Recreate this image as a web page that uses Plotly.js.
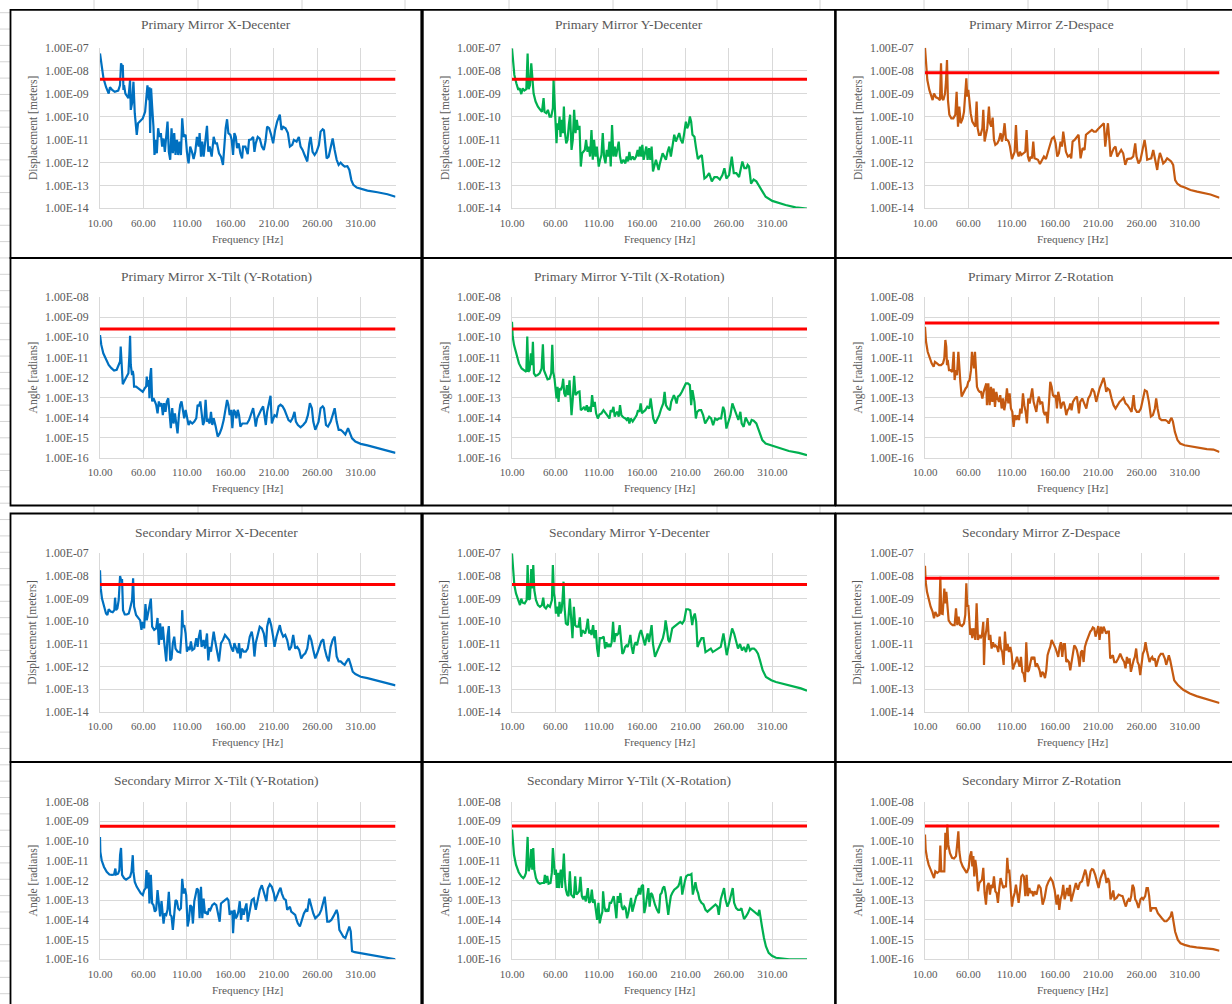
<!DOCTYPE html>
<html>
<head>
<meta charset="utf-8">
<script src="https://cdn.plot.ly/plotly-3.0.1.min.js"></script>
<style>html,body{margin:0;padding:0;background:#fff;}#chart{width:1232px;height:1004px;}</style>
</head>
<body>
<div id="chart"></div>
<script>
// ---------------- DATA ----------------
const chartTitles = [
  "Primary Mirror X-Decenter", "Primary Mirror Y-Decenter", "Primary Mirror Z-Despace",
  "Primary Mirror X-Tilt (Y-Rotation)", "Primary Mirror Y-Tilt (X-Rotation)", "Primary Mirror Z-Rotation",
  "Secondary Mirror X-Decenter", "Secondary Mirror Y-Decenter", "Secondary Mirror Z-Despace",
  "Secondary Mirror X-Tilt (Y-Rotation)", "Secondary Mirror Y-Tilt (X-Rotation)", "Secondary Mirror Z-Rotation"
];
const yTitles = ["Displacement [meters]", "Angle [radians]"];
const xTitle = "Frequency [Hz]";
const freqTicks = [10, 60, 110, 160, 210, 260, 310];
const freqTickText = ["10.00", "60.00", "110.00", "160.00", "210.00", "260.00", "310.00"];
const dispTicks = [1e-14, 1e-13, 1e-12, 1e-11, 1e-10, 1e-9, 1e-8, 1e-7];
const dispTickText = ["1.00E-14", "1.00E-13", "1.00E-12", "1.00E-11", "1.00E-10", "1.00E-09", "1.00E-08", "1.00E-07"];
const angTicks = [1e-16, 1e-15, 1e-14, 1e-13, 1e-12, 1e-11, 1e-10, 1e-9, 1e-8];
const angTickText = ["1.00E-16", "1.00E-15", "1.00E-14", "1.00E-13", "1.00E-12", "1.00E-11", "1.00E-10", "1.00E-09", "1.00E-08"];
const freqRange = [10, 350];
// requirement (red) levels per chart
const thresholds = [4.2e-9, 4.2e-9, 8e-9, 2.6e-10, 2.6e-10, 5.2e-10, 4.2e-9, 4.2e-9, 8e-9, 5.5e-10, 5.7e-10, 5.7e-10];

// Primary Mirror X-Decenter
const pmXdecF = [10,12,14,17,20,21.5,24,27,31,33,34.2,35.4,36.2,37,37.7,39.2,42.7,44.6,45.4,46.9,48.5,50,51.2,52.3,53.8,56.2,59.2,61.9,63.1,64.6,66.2,66.9,67.7,68.8,70,71.5,72.7,73.8,75.4,76.9,78.5,80,81.5,83.1,84.6,86.2,87.7,89.2,90.8,92.3,93.8,95.4,96.9,98.5,100,101.5,103.1,104.6,106.2,108.5,110,111.9,113.8,115.8,117.7,119.6,121.5,123.5,124.6,126.2,127.7,129.2,131.2,133.1,134.6,136.2,138.5,140.8,142.7,144.6,146.9,149.2,151.5,153.1,154.6,156.2,157.7,160,161.5,163.1,164.6,166.2,167.7,169.6,171.5,173.5,174.6,177.3,180,181.5,183.8,186.2,187.7,189.2,191.5,193.8,196.2,198.5,200.4,202.3,204.6,206.9,209.2,211.5,213.8,216.9,218.8,220.8,223.5,226.2,228.5,231.2,233.1,236.2,238.8,240.8,243.1,245.4,248.5,250.8,252.3,254.6,256.9,259.2,261.9,263.8,266.2,267.7,269.2,270.8,273.1,275.4,277.7,280,282.3,284.6,286.9,289.2,291.5,294.6,296.9,299.2,301.5,305.4,310,317.7,329.2,340.8,350];
const pmXdecV = [5.6e-8,1.3e-8,4.6e-9,1.9e-9,1.0e-9,1.9e-9,1.45e-9,1.2e-9,1.35e-9,2.3e-9,2.1e-8,1.5e-8,1.75e-8,1.45e-9,2.3e-9,1.0e-9,6.3e-10,3.9e-9,1.95e-10,3.8e-10,3.3e-9,1.4e-10,5.1e-11,1.6e-11,5.1e-11,6.5e-11,8.3e-11,1.6e-10,5.2e-10,2.3e-9,5.2e-10,1.9e-9,1.9e-11,1.7e-9,2.7e-10,3.6e-11,2.1e-12,9.6e-12,2.5e-12,3.1e-11,1.3e-11,1.9e-11,4.9e-12,1.1e-11,2.9e-12,1.3e-11,6e-11,2.9e-12,1.3e-12,3.1e-11,2.5e-12,1.9e-11,2.1e-12,9.6e-12,2.1e-12,8.1e-12,2.1e-12,8.3e-11,1.3e-11,1.6e-11,2.9e-12,9.1e-13,4.9e-12,2.9e-12,1.4e-12,2.9e-12,1.3e-11,4.9e-12,1.9e-11,1.8e-12,8.1e-12,1.8e-12,8.1e-12,3.9e-11,2.9e-12,4.9e-12,1.8e-12,1.3e-11,6.8e-12,6.8e-12,2.5e-12,1.8e-12,7.8e-13,6.8e-12,3.1e-11,7.6e-11,1.9e-11,1.6e-11,9.6e-12,2.1e-12,1.9e-11,1.3e-11,4.2e-12,6.8e-12,2.5e-12,1.5e-12,4.9e-12,4.9e-12,2.3e-12,9.6e-12,1e-11,1.3e-11,2.9e-12,6.8e-12,1.3e-11,1.1e-11,4.9e-12,3.5e-12,8.1e-12,3.6e-11,3.1e-11,1.6e-11,6.8e-12,2.6e-11,6e-11,1.2e-10,2.6e-11,3.6e-11,3.1e-11,1.9e-11,4.9e-12,5.8e-12,9.6e-12,8.1e-12,1.3e-11,4.9e-12,3.5e-12,2.1e-12,1.1e-12,6.8e-12,1.3e-11,2.9e-12,2.1e-12,2.9e-12,5.8e-12,2.2e-11,2.8e-11,2.5e-11,4.9e-12,1.5e-12,1.8e-12,4.9e-12,1.1e-11,3.5e-12,1.3e-12,7.8e-13,9.8e-13,7.8e-13,6.6e-13,6.9e-13,4.7e-13,1.7e-13,1.05e-13,8e-14,7e-14,5.9e-14,5e-14,4.1e-14,3.2e-14];

// Primary Mirror Y-Decenter
const pmYdecF = [10,11.1,12.7,15,17.3,18.8,20.7,22.3,24.2,26.5,28,29.2,30.7,32.2,33.4,34.9,37.2,39.9,42.6,44.5,46.4,47.5,49.5,51.4,53.3,55.2,57.1,57.9,59,60.2,61.3,62.5,63.6,64.8,65.9,67.1,68.6,69.8,70.9,72.5,74,75.5,77,78.6,80.1,81.6,83.2,84.7,86.2,87.8,89.3,90.8,92.4,93.9,95.4,97,98.5,100,101.6,103.1,104.6,106.2,107.7,110,111.5,113.1,114.6,116.1,117.7,119.2,120.7,122.3,123.8,125.3,126.9,128.4,129.9,131.5,133,134.5,136.1,138.4,140.7,142.2,143.8,145.3,146.8,149.1,151,153,154.8,156,157.5,159,160.2,161.7,163.3,164.8,166.3,167.9,169.4,170.9,172.5,174,175.9,177.4,179,180.5,182,183.6,185.5,187.4,189.3,191.2,193.1,195,197,198.9,201.2,202.7,204.6,206.6,208.5,210.4,211.9,213.5,215,216.5,218,220.3,221.9,224.2,226.5,228.8,231.8,234.1,237.2,240.3,243.3,246.4,249.5,252.5,254.8,257.1,260.2,263.3,265.6,268.6,271.7,274,275.5,277.8,280.1,281.6,283.2,285.5,288.5,291.6,295.4,299.3,302.3,310,317.7,325.3,336.8,344.5,350];
const pmYdecV = [9.3e-8,2.5e-8,6.5e-9,2.8e-9,1.45e-9,1.7e-9,9.5e-10,1.7e-9,1.35e-9,1.55e-9,5.6e-8,1.55e-9,2.3e-9,2.1e-8,3.9e-9,1.0e-9,4.5e-10,2.7e-10,1.95e-10,1.6e-10,6.3e-10,1.6e-10,1.4e-10,1.95e-10,1.0e-10,1.0e-10,2.3e-10,3.9e-9,5.2e-10,6e-11,6.8e-12,5.1e-11,2.6e-11,1e-10,1.3e-11,7.1e-11,1.9e-11,2.7e-10,2.2e-11,6.8e-12,9.6e-12,4.3e-11,1.2e-10,3.5e-12,9.6e-12,1.95e-10,1.9e-11,7.1e-11,2.6e-11,3.9e-11,6.6e-13,2.5e-12,2.9e-12,3.5e-12,9.6e-12,2.9e-12,4.9e-12,1.8e-12,2.6e-11,1.3e-12,9.6e-12,1.8e-12,4.9e-12,6.6e-13,1.3e-12,2.1e-12,1.9e-11,1.8e-12,9.1e-13,3.5e-12,1.8e-12,8.1e-12,6.6e-13,4.3e-11,1.8e-12,4.9e-12,1.8e-12,4.9e-12,8.1e-12,1.8e-12,9.1e-13,1.3e-12,9.1e-13,1.8e-12,1.1e-12,2.9e-12,1.3e-12,1.8e-12,1.3e-12,1.8e-12,3.5e-12,1.8e-12,4.9e-12,1.8e-12,5.8e-12,1.3e-12,2.5e-12,4.9e-12,1.3e-12,4.2e-12,1.3e-12,4.9e-12,4e-13,6.6e-13,1.3e-12,7.8e-13,4.7e-13,9.1e-13,1.8e-12,2.5e-12,1.8e-12,1.3e-12,2.9e-12,4.9e-12,1.8e-12,6.8e-12,1.6e-11,8.1e-12,1.3e-11,1.9e-11,9.6e-12,6.8e-12,1.9e-11,6e-11,3.1e-11,4.3e-11,1e-10,6e-11,1.6e-11,1.3e-11,4.9e-12,1.4e-12,1.8e-12,2.1e-12,2e-13,2.3e-13,3.4e-13,1.5e-13,2.3e-13,2.3e-13,1.8e-13,2.8e-13,5.6e-13,2e-13,2.8e-13,1.8e-12,3.4e-13,3.4e-13,2.3e-13,6.6e-13,1.1e-12,5.6e-13,5.6e-13,7.8e-13,6.6e-13,1.2e-13,1.8e-13,1.5e-13,9e-14,4.9e-14,3.2e-14,2.1e-14,1.65e-14,1.4e-14,1.1e-14,9.8e-15,9.6e-15];

// Primary Mirror Z-Despace
const pmZdesF = [10,11.2,12.7,15,17.3,18.8,20.4,22.7,25,27.3,28.5,29.6,31.2,33.1,34.2,35.4,36.5,38.1,40.4,42.7,45,46.5,48.1,49.6,51.2,53.5,55,56.9,57.7,58.8,60,61.2,62.7,64.6,66.5,68.1,69.6,70.8,72.3,74.2,76.2,77.3,78.8,80.4,81.9,83.8,85,86.5,88.1,89.6,91.2,93.5,95.4,97.3,98.8,100.4,101.9,103.5,105,106.5,108.1,110.4,111.9,113.5,115,116.5,118.1,119.6,121.2,123.5,125.8,127.3,128.8,130.4,131.9,133.5,135,136.5,138.1,140.4,142.7,145,147.3,149.6,151.9,154.2,156.5,158.8,160.8,162.7,164.6,166.5,168.1,169.6,171.2,172.7,175,177.3,178.8,180.4,182.7,185,187.3,189.6,191.9,194.2,195.8,198.1,200.4,202.7,205,207.3,209.6,212.7,215,216.5,218.1,219.6,221.2,222.7,224.2,226.2,228.1,230,231.9,234.2,236.5,238.8,241.2,243.5,245.8,248.1,250.4,252.7,254.2,256.5,258.8,261.2,263.5,265,266.5,268.8,271.2,273.5,275,276.5,278.1,279.6,281.2,282.7,285,287.3,289.6,291.9,294.2,296.5,298.8,301.2,305,310,316.5,324.2,331.9,339.6,350];
const pmZdesV = [1e-7,1.5e-8,3.9e-9,1.45e-9,7.4e-10,5.2e-10,1e-9,6.9e-10,6.3e-10,5.2e-10,2.1e-8,6.3e-10,5.2e-10,1e-9,3.3e-9,2.9e-8,5.2e-10,1.2e-10,8.3e-11,8.3e-11,1.2e-10,1.2e-9,3.6e-11,2.7e-10,5.1e-11,8.3e-11,1.6e-10,1e-9,4.6e-9,7.4e-10,1.45e-9,5.2e-10,1.4e-10,6e-11,4.3e-11,3.6e-11,4.5e-10,3.1e-11,1.6e-11,1.6e-11,3.1e-11,1.95e-10,8.1e-12,1.9e-11,3.1e-11,2.7e-10,5.1e-11,3.6e-11,9e-11,9.6e-12,5.8e-12,6.8e-12,9.6e-12,1.9e-11,8.1e-12,1.6e-11,5.1e-11,9.6e-12,9.6e-12,8.1e-12,4.9e-12,1.4e-12,2.1e-12,2.9e-12,4.3e-11,2.9e-12,1.8e-12,2.9e-12,2.1e-12,2.5e-12,2.9e-12,2.6e-11,1.8e-12,1.1e-12,1.8e-12,1.5e-12,8.1e-12,1.5e-12,1.4e-12,1.3e-12,8.6e-13,1.3e-12,1.8e-12,1.4e-12,2.9e-12,6.8e-12,1.1e-11,1.3e-11,6.8e-12,1.8e-12,2.5e-12,8.1e-12,4.9e-12,2.2e-11,9.6e-12,2.9e-12,1.8e-12,2.1e-12,1.5e-12,8.1e-12,9.6e-12,1.3e-11,1.6e-11,1.5e-12,4.2e-12,3.5e-12,1.6e-11,1.9e-11,2.2e-11,2.6e-11,2.2e-11,2.2e-11,2.8e-11,3.6e-11,4.3e-11,5.1e-11,4.9e-12,1.9e-11,5.1e-11,1.1e-11,1.8e-12,2.9e-12,4.2e-12,4.9e-12,1.8e-12,2.5e-12,3.5e-12,2.5e-12,7.8e-13,1.4e-12,1.5e-12,1.5e-12,1.8e-12,6.8e-12,1.8e-12,9.1e-13,1.3e-12,3.5e-12,9.6e-12,4.2e-12,1.3e-12,1.4e-12,1.5e-12,3.5e-12,1.8e-12,1.3e-12,4.7e-13,1.3e-12,2.6e-12,1.8e-12,9.1e-13,1.1e-12,1.5e-12,1.3e-12,1.1e-12,7.8e-13,1.7e-13,1.2e-13,9.4e-14,8e-14,6.3e-14,5.3e-14,4.6e-14,4e-14,2.9e-14];

// Primary Mirror X-Tilt (Y-Rotation)
const pmXtiltF = [10,11.5,13.8,16.9,20,23.1,26.2,29.2,31.5,33.1,33.8,35,36.2,37.7,40,42.7,43.8,44.6,45.4,46.9,47.7,48.5,49.2,51.5,53.8,56.2,59.2,61.5,63.1,63.8,65,66.2,66.9,67.7,68.8,70,71.5,73.1,74.6,76.2,77.7,79.2,80.8,82.3,83.8,85.4,86.9,88.5,90,91.5,93.1,94.6,96.2,97.7,99.2,100.8,102.3,103.8,105.4,106.9,108.5,110,111.9,113.8,116.2,118.5,120.8,122.3,123.8,125.4,126.9,128.5,130,131.5,133.1,134.6,136.2,137.7,139.2,140.8,143.1,145.4,147.7,150,152.3,154.6,156.2,157.7,159.2,160.8,162.3,163.8,165.4,166.9,168.5,170,171.5,173.8,176.2,179.2,181.5,183.8,186.2,187.7,189.2,190.8,193.1,195.4,197.7,199.2,200.8,202.3,204.6,206.2,207.7,209.2,210.8,213.1,215.4,217.7,220,222.3,224.6,226.9,229.2,231.5,233.8,235.4,237.7,240.8,243.8,246.9,249.2,251.5,253.8,255.4,257.7,259.2,261.5,263.8,266.2,267.7,270,272.3,275.4,277.7,280,282.3,284.6,286.9,289.2,292.3,295.4,297.7,300,303.8,310,317.7,329.2,340.8,350];
const pmXtiltV = [1.3e-10,4.2e-11,1.6e-11,7.4e-12,4.2e-12,2.9e-12,2.2e-12,2.4e-12,4.2e-12,6.2e-12,3.5e-11,2.4e-12,4.6e-13,6.2e-13,9.1e-13,1.6e-12,1.3e-11,1.2e-10,4.2e-12,1.3e-12,2.1e-12,1.3e-12,3.5e-13,3.5e-13,2.9e-13,2.3e-13,1.9e-13,2.9e-13,3.5e-13,1.1e-12,3.5e-13,7.4e-13,9.1e-14,1.1e-12,2.9e-12,6.3e-14,9.1e-14,6.3e-14,4.3e-14,1.6e-14,6.3e-14,3.6e-14,5.2e-14,1.3e-14,5.2e-14,1.9e-14,6.3e-14,9.1e-14,1.9e-14,2.9e-15,2.9e-14,5e-15,1.6e-14,4.2e-15,1.6e-15,1.3e-14,4.3e-14,6.3e-14,2.9e-14,9.1e-15,2.4e-14,9.1e-15,4.2e-15,6.2e-15,5e-15,6.2e-15,9.1e-15,4.3e-14,3.6e-14,6.3e-14,1.3e-14,4.2e-15,6.2e-15,7.5e-14,6.2e-15,7.4e-15,5e-15,1.9e-14,4.2e-15,9.1e-15,3.5e-15,1.1e-15,1.6e-15,2.9e-15,7.4e-15,2.9e-14,7.5e-14,4.3e-14,1.3e-14,2.4e-14,2.9e-15,2.4e-14,1.9e-14,9.1e-15,2.4e-14,1.3e-14,3.5e-15,5e-15,5e-15,5e-15,7.4e-15,1.6e-14,2.9e-14,1.1e-14,3.5e-15,9.1e-15,1.6e-14,2.4e-14,3.6e-14,1.3e-14,4.2e-15,1.9e-14,5.2e-14,1.2e-13,5e-15,9.1e-15,1.3e-14,1.1e-14,3.6e-14,4.3e-14,3.6e-14,2.4e-14,1.3e-14,7.4e-15,6.2e-15,9.1e-15,1.9e-14,6.2e-15,4.2e-15,3.2e-15,4.2e-15,6.2e-15,1.3e-14,5.2e-14,2.9e-14,6.2e-15,2.4e-15,3.5e-15,6.2e-15,2.9e-14,3.6e-14,2.9e-14,4.2e-15,3.5e-15,6.2e-15,1.3e-14,2.9e-14,6.2e-15,2.4e-15,2.4e-15,2e-15,1.4e-15,2.9e-15,1.6e-15,9.1e-16,6.2e-16,4.8e-16,4e-16,2.9e-16,2.2e-16,1.7e-16];

// Primary Mirror Y-Tilt (X-Rotation)
const pmYtiltF = [10,10.8,12.3,15,18,21.1,24.2,26.5,27.6,28.8,30.3,31.8,33,34.1,35.3,37.2,39.5,41.8,44.1,45.6,46.8,48.7,51,53.3,55.2,56.4,57.5,59,60.2,61.3,62.5,63.6,64.8,66.3,67.9,69,70.2,71.7,73.3,74.8,76.3,77.8,78.6,80.1,81.6,83.2,84.7,86.2,87.8,89.3,91.6,93.1,94.7,96.2,97.7,99.3,100.8,102.3,103.9,105.4,106.9,108.9,110.8,113.1,115.4,117.7,120,122.3,123.8,125.3,126.9,128.4,129.9,131.5,133,134.5,136.1,138.4,140.7,142.2,143.8,145.3,146.8,149.1,151.4,153.7,155.2,156.7,158.3,159.8,161.3,163.6,165.9,168.2,169.8,171.3,172.8,175.1,177.4,179.7,182,184.3,185.9,187.4,189.7,192,193.5,195.1,196.6,198.1,199.7,201.2,203.5,205.8,208.1,210.4,212.7,215,216.5,218,220.3,221.9,223.4,225.7,228,230.3,232.6,234.9,237.2,239.5,241.8,244.1,246.4,248.7,251,253.3,254.8,257.1,259.4,261.7,264,266.3,268.6,270.9,273.2,274.7,277,279.3,281.6,283.9,286.2,288.5,291.6,293.9,296.2,298.5,302.3,310,317.7,329.1,340.6,350];
const pmYtiltV = [6e-10,1.1e-10,4.2e-11,1.3e-11,5e-12,2.8e-12,2.1e-12,1.9e-12,1.1e-10,1.9e-12,2.3e-12,1.6e-11,4.1e-12,6e-11,1.6e-12,1.2e-12,1.3e-12,1.6e-12,2.8e-12,4.5e-11,2.3e-12,1.3e-12,8e-13,8.6e-13,1.6e-12,4.2e-11,1.9e-12,8.6e-13,2.8e-13,8.9e-14,3.4e-13,6e-14,2.8e-13,2.3e-13,3.8e-13,8.6e-13,1.6e-13,1.1e-13,4.1e-13,1.3e-13,7.1e-13,5e-14,1.3e-14,8.9e-14,1.2e-12,1.3e-13,1.6e-13,1.9e-13,2e-13,2.3e-14,2.8e-14,3.4e-14,2.3e-14,4.1e-14,1.9e-14,3.4e-14,1.9e-14,1.3e-13,3.4e-14,6e-14,1.6e-14,8.9e-15,1.4e-14,1.6e-14,2.3e-14,1.6e-14,1.1e-14,8.9e-15,2.3e-14,1.9e-14,3.4e-14,1.1e-14,1.6e-14,1.9e-14,1.1e-14,4.1e-14,1.3e-14,1e-14,8.9e-15,7.5e-15,1e-14,5e-15,8.9e-15,6.3e-15,8.9e-15,1.3e-14,2.3e-14,1.9e-14,5e-14,1.6e-14,1.9e-14,2.3e-14,3.4e-14,2.8e-14,8.9e-14,1.9e-14,8.9e-15,5e-15,7.5e-15,1.3e-14,2.8e-14,5e-14,1.9e-13,4.1e-14,2.8e-14,2.3e-14,6e-14,8.9e-14,1.3e-13,8.9e-14,5e-14,1.1e-13,1.3e-13,1.9e-13,3.4e-13,5e-13,5e-13,4.1e-13,4.1e-14,2.3e-13,6e-14,8.9e-15,1.9e-14,2.3e-14,2.3e-14,1.3e-14,5e-15,7.5e-15,1.1e-14,8.9e-15,4.1e-15,8.9e-15,7.5e-15,8.9e-15,8.9e-15,3.4e-14,2.3e-14,2.8e-15,6.3e-15,1.3e-14,5e-14,2.8e-14,1.3e-14,7.5e-15,1.9e-14,5e-15,3.4e-15,1e-14,6.3e-15,4.1e-15,7.5e-15,6.8e-15,5e-15,2.8e-15,1.3e-15,7.4e-16,5e-16,3.9e-16,2.8e-16,2.1e-16,1.7e-16,1.3e-16];

// Primary Mirror Z-Rotation
const pmZrotF = [10,11.2,13.1,15.4,17.7,20,21.5,23.8,26.2,28.5,30.8,32.3,33.5,34.6,35.4,36.2,37.7,39.2,41.5,43.1,44.2,45.4,46.9,48.5,49.6,50.8,52.3,53.8,55.4,56.9,58.5,60,61.5,63.1,64.2,65.4,66.5,67.7,68.8,70,71.5,73.1,74.6,76.2,77.7,79.2,80.8,81.5,83.1,84.6,86.2,87.7,89.2,90.8,92.3,93.8,95.4,96.9,98.5,100,101.5,103.1,104.6,106.2,107.7,109.2,110.8,112.3,113.8,115.4,116.9,118.5,120,121.5,123.1,124.6,126.2,127.7,129.2,130.8,132.3,133.8,135.4,136.9,138.5,140,141.5,143.1,145.4,146.9,148.5,150,151.5,153.1,154.6,156.2,157.7,159.2,160.8,162.3,163.8,165.4,166.9,168.5,170,171.5,173.1,174.6,176.2,177.7,179.2,180.8,183.1,185.4,187.7,189.2,191.5,193.8,196.2,198.5,200.8,203.1,205.4,207.7,209.2,211.5,213.8,216.2,217.7,219.2,220.8,223.1,225.4,227.7,230,232.3,234.6,236.9,239.2,241.5,243.8,246.2,248.5,250.8,252.3,254.6,256.9,259.2,261.5,263.8,266.2,268.5,270.8,273.1,275.4,276.9,278.5,280.8,283.1,285.4,287.7,290,291.5,293.1,294.6,296.2,298.5,301.5,304.6,309.6,316.2,323.8,335.4,343.1,350];
const pmZrotV = [3.4e-10,6e-11,1.9e-11,8.9e-12,5e-12,3.4e-12,6e-12,5e-12,4.1e-12,4.1e-12,5e-12,8.9e-12,7.4e-11,3.4e-11,4.1e-12,7.4e-12,2.3e-12,2.3e-12,1.9e-12,1.9e-11,7.4e-13,2.3e-12,1.3e-12,1.9e-11,1.9e-12,6e-13,1.1e-13,1.6e-13,2.3e-13,2.8e-13,3.4e-13,6e-13,7.4e-13,2.3e-12,1.9e-11,4.1e-12,2.8e-12,1.9e-11,2.3e-12,3.4e-13,2.3e-13,1.9e-13,1.9e-13,8.9e-14,1.9e-13,3.4e-13,5e-13,4.1e-14,5e-13,4.1e-14,3.4e-13,6e-14,2.8e-13,3.4e-14,1.9e-13,8.9e-14,6e-14,1.3e-13,2.8e-14,8.9e-14,2.3e-14,6e-14,2.8e-13,5e-14,1.6e-13,2.8e-14,1.9e-14,3.4e-15,1.3e-14,7.4e-15,1.3e-14,7.4e-15,2.8e-14,1.6e-14,1.6e-13,4.1e-14,1.9e-14,5e-15,8.9e-14,5e-14,1.3e-13,2.8e-13,6e-14,3.4e-14,1.9e-14,6e-14,1.1e-13,5e-14,6e-14,1.9e-14,1.3e-14,1.9e-14,5e-15,5e-14,6e-13,3.4e-13,1.3e-13,1.1e-13,1.3e-13,2.8e-14,1.9e-13,8.9e-14,2.8e-14,5e-14,6e-14,3.4e-14,1.3e-14,2.3e-14,2.8e-14,5e-14,2.3e-14,6e-14,8.9e-14,1.1e-13,1.6e-14,6e-14,8.9e-14,5e-14,2.8e-14,8.9e-14,1.3e-13,2.8e-13,1.9e-13,6e-14,1.3e-13,2.8e-13,5e-13,9.6e-13,5e-13,1.9e-13,2.8e-13,2.3e-13,8.9e-14,4.1e-14,2.8e-14,4.1e-14,6e-14,7.4e-14,9.6e-14,5e-14,4.1e-14,2.8e-14,1.9e-14,1.3e-13,2.8e-14,1.9e-14,1.9e-14,2.8e-14,8.9e-14,2.3e-13,2e-13,6e-14,1.1e-14,1.3e-14,2.8e-14,8.9e-14,2.8e-14,8.9e-15,7.4e-15,7.4e-15,7.4e-15,6.3e-15,5e-15,7.4e-15,9.6e-15,6.3e-15,1.9e-15,7.4e-16,5e-16,4.1e-16,3.6e-16,3e-16,2.6e-16,2.5e-16,1.9e-16];

// Secondary Mirror X-Decenter
const smXdecF = [10,10.8,12.3,14.6,16.9,18.5,20,22.3,24.6,26.5,27.3,28.5,30,31.5,33.1,34.2,35.4,36.5,38.5,40.8,43.1,44.6,46.9,48.1,49.2,51.5,53.8,56.2,57.7,59.2,60.8,62.3,63.8,65.4,66.9,68.5,70,72.3,74.6,76.2,77.7,79.2,80.8,82.3,83.8,86.2,87.7,89.2,90.8,92.3,93.8,95.4,96.9,99.2,102.3,103.8,104.6,105.4,106.9,108.5,110,111.5,113.1,114.6,116.2,118.5,120.8,122.3,123.8,125.4,126.9,129.2,130.8,133.1,134.6,136.2,137.7,139.2,140.8,142.3,144.6,146.9,149.2,151.5,153.8,156.2,158.5,160.8,163.1,164.6,166.9,168.5,170,171.5,173.1,175.4,177.7,180,182.3,184.6,186.2,187.7,189.2,191.5,193.8,196.2,198.5,200.8,202.3,204.6,206.9,209.2,210.8,213.1,215.4,216.9,218.5,220.8,223.1,225.4,227.7,230,232.3,234.6,236.9,239.2,241.5,243.8,246.2,248.5,250.8,253.1,255.4,257.7,260,262.3,264.6,266.9,268.5,270.8,273.1,275.4,277.7,280,282.3,284.6,286.9,289.2,291.5,293.8,296.2,298.5,300.8,303.8,310,317.7,329.2,340.8,350];
const smXdecV = [1.8e-8,2.9e-9,1e-9,4.5e-10,2.2e-10,1.9e-10,3.4e-10,2.7e-10,2.5e-10,3.1e-10,1.1e-9,3.1e-10,3.7e-10,8.7e-10,1e-8,6.6e-9,6.6e-9,3.1e-10,2e-10,2e-10,2.2e-10,3.7e-10,8.7e-10,7.9e-9,4.5e-10,1.9e-10,1.4e-10,1.1e-10,4.2e-11,9.5e-11,4.9e-11,5.8e-10,1.1e-10,2.2e-10,4.5e-10,1e-9,5.8e-11,4.2e-11,4.9e-11,1.4e-10,9.2e-12,8.2e-11,1.5e-11,5.8e-11,1.3e-11,1.7e-12,2.1e-11,6.2e-11,1.9e-12,2.3e-12,1.1e-11,2.1e-11,6.3e-12,4.6e-12,4.2e-12,2.9e-11,3.1e-10,5.8e-11,6.8e-11,2.9e-11,4.6e-12,7.5e-12,5.4e-12,1.3e-11,5.4e-12,6.3e-12,1.8e-11,7.5e-12,2.1e-11,4.2e-11,7.5e-12,1.5e-11,6.3e-12,2.9e-11,1.9e-12,7.5e-12,4.6e-12,1.5e-11,3.5e-11,1.5e-11,5.4e-12,1.7e-12,1.1e-11,1.5e-11,2.5e-11,1.8e-11,1.5e-11,7.5e-12,4.6e-12,1.1e-11,5.4e-12,3.9e-12,1.1e-11,2.3e-12,6.3e-12,4.6e-12,4.6e-12,6.3e-12,2.1e-11,3.5e-11,1.5e-11,2.8e-12,1.1e-11,2.9e-11,5.8e-11,4.9e-11,2.9e-11,7.5e-12,5.8e-11,1.4e-10,6.8e-11,2.1e-11,7.5e-12,2.1e-11,4.9e-11,6.8e-11,3.5e-11,2.1e-11,2.5e-11,1.5e-11,5.4e-12,7.5e-12,2.5e-11,6.3e-12,7.5e-12,5.4e-12,2.3e-12,3.2e-12,3.9e-12,6.3e-12,2.5e-11,1.5e-11,5.4e-12,2.3e-12,3.9e-12,7.5e-12,1.3e-11,1.6e-11,6.3e-12,2.8e-12,1.7e-12,7.5e-12,1.5e-11,2.1e-11,2.8e-12,1.7e-12,1.7e-12,1.4e-12,1.2e-12,1.7e-12,2.3e-12,1.2e-12,6e-13,4.7e-13,3.6e-13,3.1e-13,2.4e-13,1.8e-13,1.5e-13];

// Secondary Mirror Y-Decenter
const smYdecF = [10,11.1,12.7,14.6,16.9,19.2,20.7,22.3,24.6,26.9,28,29.2,30.7,32.2,33.4,34.5,35.7,37.6,39.9,42.2,44.5,46,47.2,49.1,51.4,53.7,56,57.1,58.3,59.4,60.6,62.1,63.6,64.8,65.9,67.1,68.2,69.4,70.5,72.1,74.4,76.7,78.2,79.7,81.3,82.8,84.3,86.6,88.2,89.7,91.2,92.8,94.3,95.8,97.4,98.9,100.4,101.6,103.5,105,106.6,108.1,109.6,111.1,113.4,115.7,117.3,118.8,120.3,121.9,123.4,124.9,126.5,128,129.5,131.1,132.6,134.1,135.7,137.2,138.7,140.3,141.8,143.3,144.9,146.4,147.9,149.5,151,152.5,154.1,155.6,157.1,158.7,160.2,161.7,163.3,164.8,166.3,167.9,169.4,170.9,172.5,174.8,177,179.3,181.6,183.9,185.9,187,188.5,190.1,191.6,193.1,194.7,197,199.3,201.6,203.9,206.2,208.5,210.8,213.1,215.4,217.7,219.2,220.7,222.3,223.8,226.1,228.4,230.7,233,236.1,239.1,241.4,244.5,247.5,250.6,253.7,255.2,257.5,259.8,262.1,263.7,266,268.2,270.5,272.8,275.1,277.4,279.7,282,284.3,286.6,288.9,291.2,293.5,295.8,298.9,302.7,308.9,314.2,321.9,333.4,343,350];
const smYdecV = [1e-7,1.8e-8,4e-9,1.7e-9,8.7e-10,5.2e-10,1e-9,6.6e-10,6.2e-10,8.7e-10,3e-8,9.2e-10,1e-9,2e-8,2.8e-9,3e-8,2.4e-9,8.7e-10,5.2e-10,4.4e-10,5.2e-10,1.1e-9,4.4e-10,3.7e-10,5.2e-10,4.4e-10,8.7e-10,3e-8,1.7e-9,1e-9,2.2e-10,4.4e-10,1.6e-10,7.3e-10,2.2e-10,3.1e-10,8.7e-10,5.6e-9,4.4e-10,8e-11,6.8e-11,1e-9,1.3e-10,1.8e-11,4.4e-10,6.8e-11,5.8e-11,5.8e-11,1.5e-10,2.1e-11,4.1e-11,3.5e-11,2.9e-11,4.9e-11,1.3e-10,2.9e-11,4.1e-11,2.5e-11,6.8e-11,1.8e-11,4.1e-11,6.3e-12,2.7e-12,1.8e-11,1.8e-11,2.1e-11,6.3e-12,1.2e-11,7.4e-12,1e-11,7.4e-12,1.2e-11,9.5e-11,1.2e-11,2.9e-11,2.5e-11,2.9e-11,6.8e-11,1.5e-11,3.7e-12,4.4e-12,7.4e-12,8.7e-12,7.4e-12,1.2e-11,2.5e-11,7.4e-12,3.7e-12,8.7e-12,1.2e-11,8.7e-12,1.8e-11,2.9e-11,4.1e-11,2.5e-11,1.5e-11,8.7e-12,1.8e-11,2.9e-11,1.2e-11,3.5e-11,6.8e-11,1e-11,2.7e-12,4.4e-12,7.4e-12,1.2e-11,1.8e-11,4.1e-11,1.1e-10,4.9e-11,1.5e-11,1.2e-11,2.1e-11,4.9e-11,5.8e-11,6.8e-11,8e-11,9.5e-11,8e-11,1.1e-10,3.4e-10,3.4e-10,3.1e-10,6.8e-11,1.6e-10,2.2e-10,9.5e-11,7.4e-12,1.2e-11,1.8e-11,1.8e-11,4.4e-12,5.2e-12,6.3e-12,4.4e-12,5.2e-12,6.3e-12,7.4e-12,2.9e-11,1e-11,3.2e-12,8.7e-12,2.1e-11,4.9e-11,2.9e-11,1.2e-11,6.3e-12,1e-11,5.2e-12,7.4e-12,4.4e-12,1e-11,5.2e-12,6.3e-12,6.3e-12,5.2e-12,3.7e-12,1.9e-12,7e-13,3.5e-13,2.5e-13,2.1e-13,1.8e-13,1.4e-13,1.1e-13,8.7e-14];

// Secondary Mirror Z-Despace
const smZdesF = [10,10.8,12.3,14.2,16.5,18.8,20.4,21.9,24.2,26.5,27.7,28.8,30.4,32.3,33.5,34.6,35.8,37.3,39.6,41.9,44.2,45.8,47.3,48.8,50.4,52.7,55,56.5,57.7,58.8,60,61.2,62.3,63.5,64.6,65.8,66.9,68.1,69.6,71.2,72.7,74.2,75.8,77.3,78.1,79.2,80.8,82.3,83.8,85.4,86.9,88.5,90,91.5,93.1,94.6,96.2,97.7,99.2,100.8,102.3,103.8,105.4,106.9,108.5,110,111.5,113.1,114.6,116.2,117.7,119.2,120.8,122.3,123.8,125.4,126.9,128.5,130,131.5,133.1,134.6,136.2,137.7,139.2,140.8,142.3,143.8,145.4,146.9,148.5,150,151.5,153.1,154.6,156.2,157.7,159.2,160.8,162.3,163.8,165.4,166.9,168.5,170,171.5,173.1,174.6,176.2,177.7,179.2,180.8,182.3,183.8,185.4,186.9,188.5,190,191.5,193.1,194.6,196.2,197.7,199.2,200.8,202.3,203.8,205.4,206.9,208.5,210,211.5,213.1,214.6,216.2,217.7,219.2,220.8,222.3,223.8,225.4,226.9,228.5,230.8,233.1,235.4,237.7,240,241.5,243.1,244.6,246.2,247.7,249.2,250.8,252.3,253.8,255.4,256.9,258.5,260,261.5,263.1,264.6,266.2,267.7,269.2,270.8,272.3,273.8,275.4,276.9,278.5,280,282.3,284.6,286.9,288.5,290,291.5,293.1,295.4,297.7,299.2,302.3,308.1,315.8,323.5,335,342.7,350];
const smZdesV = [2.8e-8,5.6e-9,2e-9,8.7e-10,4.4e-10,2.6e-10,1.35e-10,2.6e-10,1.7e-10,1.9e-10,9.3e-9,2.2e-10,2.1e-10,2.8e-9,6.2e-10,2e-9,3.1e-10,1.1e-10,8e-11,6.8e-11,6.8e-11,3.7e-10,6.8e-11,1.6e-10,6.8e-11,6.2e-11,8e-11,1.9e-10,4.7e-9,4.4e-10,5.2e-10,1.1e-10,2.5e-11,4.9e-11,1.8e-11,4.9e-11,3.5e-11,1.5e-11,6.2e-10,1.5e-11,2.5e-11,1.8e-11,2.5e-11,9.5e-11,1.2e-12,1.8e-11,4.1e-11,1.4e-10,1.5e-11,2.5e-11,6.3e-12,1.2e-11,7.4e-12,8.7e-12,7.4e-12,4.4e-12,2.1e-11,6.3e-12,4.4e-12,1.2e-12,3.5e-11,5.2e-12,1e-11,4.4e-12,7.4e-12,3.7e-12,7.5e-13,1.2e-12,1.6e-12,2.7e-12,1.6e-12,9.9e-13,2.7e-12,5.9e-13,5e-13,2.1e-13,1.2e-11,5.9e-13,6.9e-13,1.6e-12,2.7e-12,2.3e-12,2.7e-12,9.9e-13,1.4e-12,9.9e-13,6.9e-13,3.5e-13,5.9e-13,5e-13,3.1e-13,6.9e-13,3.2e-12,5.2e-12,7.4e-12,1.5e-11,1.2e-11,8.7e-12,6.3e-12,4.4e-12,2.7e-12,7.4e-12,1.2e-11,2.7e-12,1e-11,1e-11,1.6e-12,1.9e-12,1.6e-12,6.9e-13,1.6e-12,3.7e-12,8.7e-12,7.4e-12,5.2e-12,2.7e-12,9.9e-13,4.4e-12,5.2e-12,1.6e-12,7.4e-12,1.2e-11,1.8e-11,2.5e-11,3.5e-11,4.1e-11,5.4e-11,4.9e-11,2.1e-11,3.5e-11,6.2e-11,1.5e-11,5.8e-11,2.9e-11,5.8e-11,4.1e-11,2.9e-11,3.5e-11,3.5e-11,2.3e-12,2.7e-12,3.2e-12,1.6e-12,1.6e-12,2.3e-12,3.7e-12,2.3e-12,1.6e-12,8.5e-13,2.7e-12,1.4e-12,2.3e-12,5.9e-13,1.2e-12,1.9e-12,2.7e-12,6.3e-12,1.6e-12,1.2e-12,4.2e-13,1.6e-12,3.7e-12,5.2e-12,1.2e-11,5.2e-12,2.7e-12,1.6e-12,2.3e-12,2.7e-12,1.9e-12,2.3e-12,9.9e-13,1.6e-12,2.7e-12,3.7e-12,3.7e-12,2.3e-12,1.2e-12,1.9e-12,3.2e-12,1.9e-12,6.9e-13,2.5e-13,2.1e-13,1.5e-13,9.5e-14,6.5e-14,5e-14,3.7e-14,3e-14,2.5e-14];

// Secondary Mirror X-Tilt (Y-Rotation)
const smXtiltF = [10,10.4,11.9,14.6,17.7,20.8,23.8,26.2,27.7,28.5,30.8,32.3,33.1,34.2,35.4,37.7,40,42.3,44.6,46.2,47.7,48.5,50,52.3,54.6,56.9,59.2,60.8,62.3,63.5,64.6,65.8,66.9,68.5,70,71.5,73.1,74.6,76.2,77.7,79.2,80.8,82.3,83.1,84.6,86.2,87.7,89.2,90.8,92.3,93.8,95.4,96.9,98.5,100,101.5,103.1,104.6,106.2,107.7,109.2,110.8,112.3,113.8,115.4,116.9,118.5,120,121.5,123.1,124.6,126.2,127.7,129.2,130.8,132.3,133.8,135.4,136.9,139.2,141.5,143.8,146.2,147.7,149.2,151.5,153.8,156.2,157.7,159.2,160.8,162.3,163.1,164.6,166.2,167.7,169.2,170.8,172.3,173.8,175.4,176.9,178.5,180,182.3,184.6,186.9,189.2,191.5,193.8,196.2,198.5,200,201.5,203.1,205.4,207.7,210,211.5,213.8,216.2,217.7,219.2,221.5,223.8,225.4,226.9,228.5,230,232.3,234.6,236.2,237.7,240,242.3,244.6,246.9,248.5,250.8,253.1,255.4,257.7,260,262.3,264.6,266.9,268.5,270,271.5,273.8,276.2,278.5,280.8,282.3,283.8,285.4,287.7,290,292.3,294.6,296.9,298.5,300,303.1,310.8,318.5,330,341.5,350];
const smXtiltV = [1.6e-10,2.8e-11,1.05e-11,4.8e-12,2.7e-12,2e-12,1.9e-12,2e-12,4e-12,2e-12,2.2e-12,3.3e-12,1.9e-11,4.4e-11,1.9e-12,1.3e-12,1.1e-12,1.3e-12,1.5e-12,2.7e-12,1.9e-11,2.7e-12,8.4e-13,4.7e-13,3.2e-13,2.2e-13,1.8e-13,3.2e-13,3.9e-13,3.3e-12,3.9e-13,2.5e-12,6.8e-14,1.9e-12,6.8e-14,5.6e-14,2.6e-14,3.2e-14,3.2e-13,3.8e-14,1.5e-14,8.8e-14,2.1e-14,6.5e-15,2.1e-14,1.8e-14,3.2e-14,2.6e-13,1.8e-14,1.5e-14,3.1e-15,2.1e-14,1e-13,8.8e-14,3.8e-14,3.2e-14,3.8e-14,1.2e-12,2.2e-13,3.9e-13,1.8e-13,4.6e-15,9.9e-15,5.6e-14,4.6e-14,6.5e-15,8.8e-14,1.8e-13,3.9e-13,3.2e-13,1.2e-14,4.7e-13,1.2e-14,1.2e-13,2.1e-14,2.6e-14,1.8e-14,3.8e-14,3.2e-14,5.6e-14,6.8e-14,5.6e-14,2.1e-14,8.1e-15,6.8e-14,8.8e-14,1e-13,1.2e-13,1e-13,1.8e-14,2.6e-14,2.6e-14,2.1e-15,3.2e-14,1.2e-14,1.5e-14,2.6e-14,8.8e-14,9.9e-15,3.8e-14,1.8e-14,3.8e-14,6.8e-14,8.1e-15,2.6e-14,1e-13,1.2e-13,3.2e-14,1e-13,3.2e-13,5.7e-13,2.6e-13,1.8e-13,8.8e-14,3.9e-13,6.3e-13,4.7e-13,2.2e-13,8.8e-14,1.8e-13,3.2e-13,4.2e-13,2.2e-13,1.2e-13,1e-13,3.2e-14,3.8e-14,4.6e-14,2.6e-14,2.1e-14,1.8e-14,9.9e-15,6.5e-15,4.6e-15,9.9e-15,2.1e-14,3.2e-14,2.6e-14,1.2e-13,4.6e-14,2.1e-14,1.2e-14,1.5e-14,1.9e-14,3.2e-14,6.8e-14,1.5e-13,3.8e-14,8.1e-15,8.1e-15,9.9e-15,1.5e-14,2.6e-14,3.2e-14,1.8e-14,3.1e-15,2.1e-15,1.4e-15,1.2e-15,2.1e-15,4.6e-15,2.6e-15,2.6e-16,2.3e-16,2e-16,1.8e-16,1.4e-16,1.1e-16,1e-16];

// Secondary Mirror Y-Tilt (X-Rotation)
const smYtiltF = [10,10.8,12.3,14.6,17.7,20.7,23,24.6,26.1,28,29.2,30.7,32.2,33.4,34.5,35.7,37.6,39.9,42.2,44.5,46.8,47.9,49.1,50.6,52.1,54.4,55.9,57.1,58.3,59.4,60.6,61.7,62.9,64,65.2,66.3,67.5,68.6,69.8,71,72.1,73.6,75.1,76.7,78.2,79.7,81.3,82.8,84.3,85.9,87.4,88.9,90.5,92,93.5,95.1,97.4,98.9,100.4,102,103.5,105,106.6,108.1,109.6,111.1,112.7,114.2,115,116.5,118,119.6,121.1,122.6,124.2,125.7,127.2,128.8,130.3,131.8,133.4,134.9,136.4,138,139.5,141,142.6,144.1,145.6,147.2,148.7,150.2,151.8,153.3,154.8,156.4,157.9,159.4,161,162.5,164,165.6,167.1,168.6,170.2,171.7,173.2,174.7,177.1,179.3,180.9,182.4,183.9,185.5,187,188.5,190.1,191.6,193.1,194.7,197,199.3,201.6,203.1,204.6,206.2,207.7,209.2,210.7,213,215.3,216.8,218.4,219.9,221.4,223,224.5,226,228.3,230.7,233,235.3,237.6,239.9,242.2,244.5,246.8,248.3,250.6,252.9,254.4,256,258.3,260.6,262.9,264.4,266,268.3,270.5,272.8,274.4,275.9,277.4,279.7,282,284.3,286.6,288.9,291.2,293.5,295.1,296.6,298.1,300.4,302.7,305.8,309.6,314.2,321.9,329.5,350];
const smYtiltV = [3.8e-10,8e-11,2e-11,6.3e-12,2.6e-12,1.6e-12,1.3e-12,1.6e-12,2.4e-12,1.6e-10,2.9e-12,5.1e-12,3.9e-11,3.5e-12,4.4e-11,3.5e-12,1.3e-12,7.9e-13,6.8e-13,7.4e-13,7.4e-13,1.9e-12,7.4e-13,1.7e-12,6.8e-13,7.4e-13,2.4e-12,4.4e-11,3.5e-12,1.9e-12,3.5e-12,4.1e-13,2.4e-12,4.1e-13,1.9e-12,3.5e-12,4.1e-13,3.5e-12,2.3e-11,1.1e-12,3.4e-13,1.9e-13,1.6e-13,2.9e-12,1.9e-13,1.6e-13,1.3e-13,1.6e-12,1.9e-13,2.3e-13,2.8e-13,1.5e-12,1.6e-13,1.1e-13,1.6e-13,8.6e-14,4.1e-13,7.3e-14,8.6e-14,3.4e-13,7.3e-14,1.1e-13,2.2e-14,1e-14,7.3e-14,6.6e-15,1.5e-14,2.6e-14,2.8e-13,4.7e-14,2.6e-14,3.2e-14,2.6e-14,7.3e-14,7.3e-14,1.1e-13,1.6e-13,4.7e-14,1.2e-14,1.6e-13,7.3e-14,2.3e-13,4.7e-14,3.2e-14,4.7e-14,3.9e-14,1.2e-14,2.2e-14,4.7e-14,1.3e-13,2.6e-14,4.7e-14,1.1e-13,1.6e-13,1.9e-13,4.1e-13,1.9e-13,5e-13,6e-13,2.2e-14,4.7e-14,1.6e-13,4.1e-13,4.7e-14,2.3e-13,1.9e-13,8.6e-14,6e-14,3.2e-14,2.2e-14,1.9e-13,2.3e-13,4.1e-13,5e-13,2.3e-13,7.3e-14,1.8e-14,6e-14,1.6e-13,2.3e-13,3.4e-13,4.1e-13,5e-13,7.4e-13,1.6e-12,1.9e-13,5e-13,8.9e-13,1.6e-12,1.9e-12,1.9e-12,2.1e-12,1.9e-13,3.4e-13,8e-13,3.4e-13,2.3e-13,1.1e-13,7.3e-14,6e-14,3.2e-14,2.6e-14,3.2e-14,3.9e-14,4.7e-14,6e-14,4.7e-14,1.8e-14,1.1e-13,2.8e-13,4.1e-13,1.1e-13,4.7e-14,8.6e-14,2.3e-13,4.1e-13,7.3e-14,3.9e-14,3.2e-14,3.2e-14,3.9e-14,2e-14,1.1e-14,1.5e-14,2.2e-14,3.9e-14,3.2e-14,2.6e-14,2.2e-14,1.8e-14,3.2e-14,1.5e-14,4.6e-15,1.2e-15,4.5e-16,2.1e-16,1.5e-16,1.2e-16,1.1e-16,1e-16,1e-16];

// Secondary Mirror Z-Rotation
const smZrotF = [10,10.8,12.3,14.2,16.5,18.8,20.4,21.9,24.2,26.5,27.7,28.8,30.4,32.3,33.5,34.6,35.8,36.9,38.8,41.2,43.5,45.8,47.3,48.5,49.6,51.2,53.5,55.8,58.1,60.4,61.9,63.5,64.6,65.8,66.9,68.1,69.6,71.2,72.7,74.2,75.8,77.3,78.8,80.4,81.9,83.5,85,86.5,88.1,89.6,91.2,92.7,94.2,95.8,97.3,98.8,100.4,101.9,103.5,105,106.2,107.3,108.8,110.4,111.9,113.5,115,116.5,118.1,119.6,121.2,122.7,124.2,125.8,127.3,128.8,130.4,131.9,133.5,135,136.5,138.8,141.2,143.5,145.8,148.1,150.4,152.7,155,157.3,159.6,161.9,163.5,165,166.5,168.1,169.6,171.2,172.7,174.2,175.8,177.3,178.8,180.4,182.7,184.2,186.5,188.8,191.2,193.5,195,196.5,198.1,199.6,201.2,202.7,204.2,206.5,208.8,210.4,212.7,215,216.5,218.1,219.6,221.2,222.7,224.2,225.8,227.3,228.8,231.2,233.5,235.8,238.1,240.4,241.9,243.5,245,246.5,248.1,249.6,251.2,252.7,254.2,256.5,258.8,260.4,261.9,264.2,265.8,267.3,268.8,270.4,271.9,274.2,276.5,278.8,281.2,283.5,286.5,288.8,291.2,293.5,295,296.5,298.8,301.9,305,309.6,315.8,323.5,335,342.7,350];
const smZrotV = [2.1e-10,3.6e-11,1.4e-11,6.3e-12,3.5e-12,1.9e-12,1.3e-12,2.9e-12,2.4e-12,2.9e-12,5.8e-11,2.9e-12,2.9e-12,2.9e-12,2.6e-10,3.6e-11,6.8e-10,6.5e-11,2.4e-11,1.4e-11,1.3e-11,1.7e-11,7.9e-11,3.1e-10,3e-11,9.3e-12,5.1e-12,3.5e-12,2.4e-12,4.3e-12,1.7e-11,3e-11,5.1e-12,1.7e-11,1.6e-12,1.1e-11,3.5e-12,2.8e-13,7.4e-13,8.9e-13,1.1e-12,4.3e-12,2.3e-13,5.9e-14,5e-13,7.4e-13,1.9e-13,6e-13,4.1e-13,1.6e-12,2.8e-13,2.3e-13,7.3e-14,4.1e-13,1.3e-12,7.4e-13,4.1e-13,5e-13,5e-13,1.4e-11,2.4e-12,3.5e-12,2.3e-13,4.7e-14,1.3e-13,2.3e-13,6e-13,1.6e-13,7.3e-14,2.8e-13,1.6e-12,1.9e-12,1.6e-12,1.6e-13,1.9e-12,1.6e-13,4.1e-13,2.3e-13,2.8e-13,1.6e-13,2.8e-13,1.9e-13,6e-13,4.1e-13,5.9e-14,1.3e-13,5e-13,8.9e-13,1.3e-12,8.9e-13,3.4e-13,5.9e-14,1.9e-13,3.2e-14,1.1e-13,1.9e-13,6e-13,1.1e-13,2.3e-13,4.1e-13,1.6e-13,6e-13,8.6e-14,1.6e-13,4.1e-13,7.4e-13,3.4e-13,7.4e-13,8.9e-13,2.4e-12,3.5e-12,1.9e-12,5e-13,1.1e-12,2.9e-12,3.7e-12,3.5e-12,1.9e-12,6e-13,4.1e-13,1.3e-12,2.4e-12,3.5e-12,1.9e-12,7.4e-13,1.3e-12,8.9e-13,1.1e-13,1.6e-13,3.1e-13,1.1e-13,1.3e-13,1.9e-13,1.7e-13,1.6e-13,7.3e-14,4.7e-14,8.6e-14,1.1e-13,8.6e-14,1.6e-13,6e-13,4.1e-13,1.1e-13,8.6e-14,4e-14,1.1e-13,1.3e-13,1.1e-13,1.6e-13,4.1e-13,4.1e-13,1.6e-13,2.6e-14,3.9e-14,3.9e-14,3.9e-14,2.2e-14,1.5e-14,1.2e-14,8.5e-15,8.5e-15,1.1e-14,1.5e-14,2.6e-14,1.2e-14,2.5e-15,9.6e-16,6.5e-16,5.4e-16,4.5e-16,4e-16,3.4e-16,3.3e-16,2.7e-16];

const seriesF = [pmXdecF, pmYdecF, pmZdesF, pmXtiltF, pmYtiltF, pmZrotF, smXdecF, smYdecF, smZdesF, smXtiltF, smYtiltF, smZrotF];
const seriesV = [pmXdecV, pmYdecV, pmZdesV, pmXtiltV, pmYtiltV, pmZrotV, smXdecV, smYdecV, smZdesV, smXtiltV, smYtiltV, smZrotV];

// ---------------- LAYOUT / STYLE ----------------
const W = 1232, H = 1004;
const px = x => x / W;
const py = y => 1 - y / H;
const colPlot = [[100, 395.5], [512, 807], [925, 1219.5]];
const rowPlot = [[47.7, 208.3], [297.3, 457.5], [553.3, 712], [801.5, 959.3]];
const colBox = [[10.5, 421.3], [422.8, 835], [835.8, 1245]];
const rowBox = [[9.8, 258], [258, 505.5], [513.5, 762], [762, 1015]];
const colTitleX = [216, 629, 1041];
const rowTitleY = [25, 276, 532, 780];
const rowXTitleY = [239, 488, 742, 990];
const colYTitleX = [33, 445, 858];
const lineColors = ["#0070C0", "#00B050", "#C55A11"];
const FONT = "Liberation Serif, Times New Roman, serif";
const GREY = "#595959";
const GRID = "#d9d9d9";

const traces = [];
const layout = {
  width: W, height: H,
  margin: {l: 0, r: 0, t: 0, b: 0},
  paper_bgcolor: "#ffffff",
  plot_bgcolor: "rgba(0,0,0,0)",
  showlegend: false,
  font: {family: FONT, color: GREY, size: 11},
  shapes: [], annotations: []
};

// spreadsheet background grid
const sheetCols = [94, 198, 302, 405, 509, 613, 717, 820, 924, 1028, 1108, 1187];
sheetCols.forEach(x => layout.shapes.push({type: "line", xref: "paper", yref: "paper", x0: px(x), x1: px(x), y0: 0, y1: 1, line: {color: "#d4d4d4", width: 1}, layer: "below"}));
for (let y = 12.7; y < H; y += 16.35) {
  layout.shapes.push({type: "line", xref: "paper", yref: "paper", x0: 0, x1: 1, y0: py(y), y1: py(y), line: {color: "#d4d4d4", width: 1}, layer: "below"});
}

for (let i = 0; i < 12; i++) {
  const r = Math.floor(i / 3), c = i % 3;
  const n = i + 1;
  const xa = "xaxis" + (n === 1 ? "" : n), ya = "yaxis" + (n === 1 ? "" : n);
  const xr = "x" + (n === 1 ? "" : n), yr = "y" + (n === 1 ? "" : n);
  const isAngle = (r === 1 || r === 3);
  // chart box
  layout.shapes.push({type: "rect", xref: "paper", yref: "paper",
    x0: px(colBox[c][0]), x1: px(colBox[c][1]), y0: py(rowBox[r][1]), y1: py(rowBox[r][0]),
    fillcolor: "#ffffff", line: {color: "#000000", width: 1.8}, layer: "below"});
  layout[xa] = {
    domain: [px(colPlot[c][0]), px(colPlot[c][1])], anchor: yr,
    range: freqRange, tickvals: freqTicks, ticktext: freqTickText,
    showgrid: true, gridcolor: GRID, gridwidth: 1, zeroline: false,
    showline: true, linecolor: GRID, linewidth: 1, ticks: "", ticklabelstandoff: 4,
    tickfont: {family: FONT, size: 11, color: GREY}, fixedrange: true
  };
  layout[ya] = {
    domain: [py(rowPlot[r][1]), py(rowPlot[r][0])], anchor: xr, type: "log",
    range: isAngle ? [-16, -8] : [-14, -7],
    tickvals: isAngle ? angTicks : dispTicks, ticktext: isAngle ? angTickText : dispTickText,
    showgrid: true, gridcolor: GRID, gridwidth: 1, zeroline: false,
    showline: true, linecolor: GRID, linewidth: 1, ticks: "", ticklabelstandoff: 8,
    tickfont: {family: FONT, size: 11.8, color: GREY}, fixedrange: true
  };
  traces.push({type: "scatter", mode: "lines", x: seriesF[i], y: seriesV[i], xaxis: xr, yaxis: yr,
    line: {color: lineColors[c], width: 2.2}, hoverinfo: "x+y"});
  traces.push({type: "scatter", mode: "lines", x: freqRange, y: [thresholds[i], thresholds[i]], xaxis: xr, yaxis: yr,
    line: {color: "#FF0000", width: 3}, hoverinfo: "y"});
  // titles
  layout.annotations.push({xref: "paper", yref: "paper", x: px(colTitleX[c]), y: py(rowTitleY[r]),
    xanchor: "center", yanchor: "middle", showarrow: false, text: chartTitles[i],
    font: {family: FONT, size: 13.5, color: GREY}});
  layout.annotations.push({xref: "paper", yref: "paper", x: px((colPlot[c][0] + colPlot[c][1]) / 2), y: py(rowXTitleY[r]),
    xanchor: "center", yanchor: "middle", showarrow: false, text: xTitle,
    font: {family: FONT, size: 11.3, color: GREY}});
  layout.annotations.push({xref: "paper", yref: "paper", x: px(colYTitleX[c]), y: py((rowPlot[r][0] + rowPlot[r][1]) / 2),
    xanchor: "center", yanchor: "middle", showarrow: false, textangle: -90, text: isAngle ? yTitles[1] : yTitles[0],
    font: {family: FONT, size: 11.5, color: GREY}});
}

Plotly.newPlot("chart", traces, layout, {staticPlot: true, displayModeBar: false});
</script>
</body>
</html>
